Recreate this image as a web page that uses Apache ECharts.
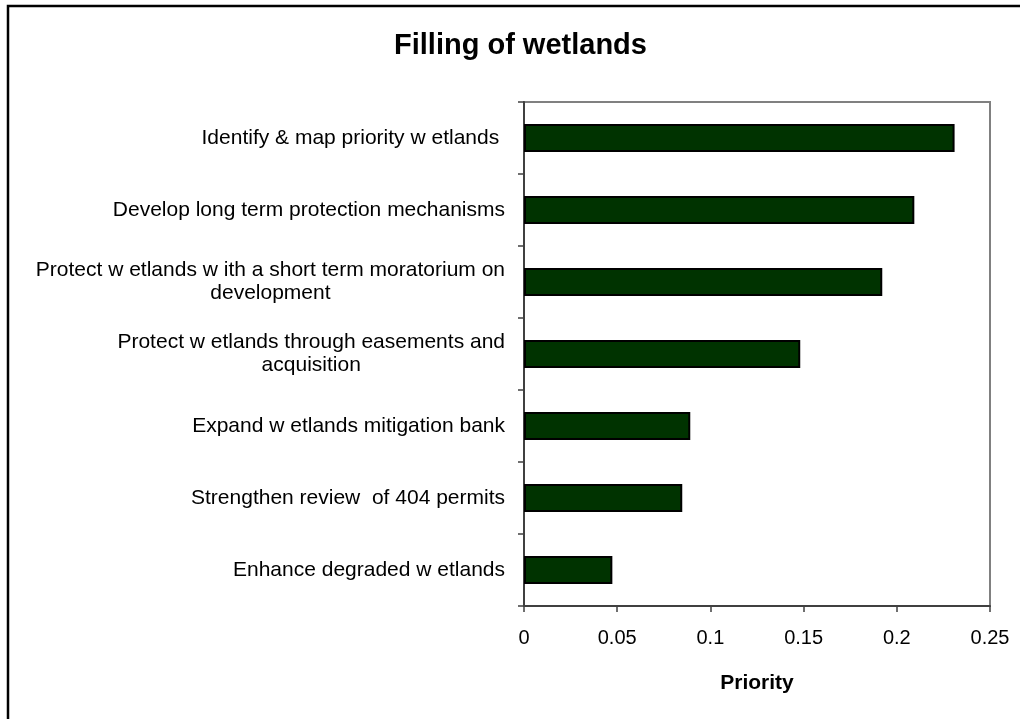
<!DOCTYPE html>
<html>
<head>
<meta charset="utf-8">
<script src="https://cdn.jsdelivr.net/npm/echarts@6/dist/echarts.min.js"></script>
<style>
html,body{margin:0;padding:0;background:#fff;}
#chart{width:1020px;height:719px;}
</style>
</head>
<body>
<div id="chart"></div>
<script>
const titleText = 'Filling of wetlands';
const categories = [
  'Identify & map priority w etlands ',
  'Develop long term protection mechanisms',
  'Protect w etlands w ith a short term moratorium on\ndevelopment',
  'Protect w etlands through easements and\nacquisition',
  'Expand w etlands mitigation bank',
  'Strengthen review  of 404 permits',
  'Enhance degraded w etlands'
];
const priorityValues = [0.231, 0.2094, 0.1922, 0.1482, 0.0892, 0.0849, 0.0474];
const xTicks = [0, 0.05, 0.1, 0.15, 0.2, 0.25];
const axisName = 'Priority';

const FONT = 'Liberation Sans, Arial, sans-serif';
const chart = echarts.init(document.getElementById('chart'), null, {renderer: 'canvas'});
chart.setOption({
  backgroundColor: '#fff',
  animation: false,
  title: {
    text: titleText,
    left: 389,
    top: 26,
    textStyle: {fontFamily: FONT, fontSize: 29, fontWeight: 'bold', color: '#000'}
  },
  graphic: [{
    type: 'rect',
    shape: {x: 8, y: 6, width: 1100, height: 800},
    style: {fill: 'none', stroke: '#000', lineWidth: 2.5},
    silent: true,
    z: 100
  }, {
    type: 'rect',
    shape: {x: 524, y: 102, width: 466, height: 504},
    style: {fill: 'none', stroke: '#808080', lineWidth: 2},
    silent: true,
    z: 0
  }],
  grid: {left: 524, top: 102, width: 466, height: 504, containLabel: false},
  xAxis: {
    type: 'value',
    min: xTicks[0],
    max: xTicks[xTicks.length - 1],
    interval: 0.05,
    name: axisName,
    nameLocation: 'middle',
    nameGap: 67,
    nameTextStyle: {fontFamily: FONT, fontSize: 21, fontWeight: 'bold', color: '#000'},
    axisLine: {show: true, onZero: false, lineStyle: {color: '#404040', width: 2}},
    axisTick: {show: true, inside: false, length: 6, lineStyle: {color: '#404040', width: 1.5}},
    axisLabel: {margin: 22, fontFamily: FONT, fontSize: 20, color: '#000',
      formatter: v => String(+v.toFixed(2))},
    splitLine: {show: false}
  },
  yAxis: {
    type: 'category',
    data: categories,
    inverse: true,
    axisLine: {show: true, lineStyle: {color: '#404040', width: 2}},
    axisTick: {show: true, inside: false, length: 6, alignWithLabel: false, lineStyle: {color: '#404040', width: 1.5}},
    axisLabel: {
      margin: 19,
      fontFamily: FONT,
      fontSize: 21,
      color: '#000',
      lineHeight: 23,
      formatter: v => v.split('\n').map(s => '{c|' + s + '}').join('\n'),
      rich: {c: {align: 'center', fontFamily: FONT, fontSize: 21, lineHeight: 23, color: '#000'}}
    },
    splitLine: {show: false}
  },
  series: [{
    type: 'bar',
    data: priorityValues,
    barCategoryGap: '61%',
    itemStyle: {color: '#003300', borderColor: '#000', borderWidth: 2},
    z: 2
  }]
});
</script>
</body>
</html>
